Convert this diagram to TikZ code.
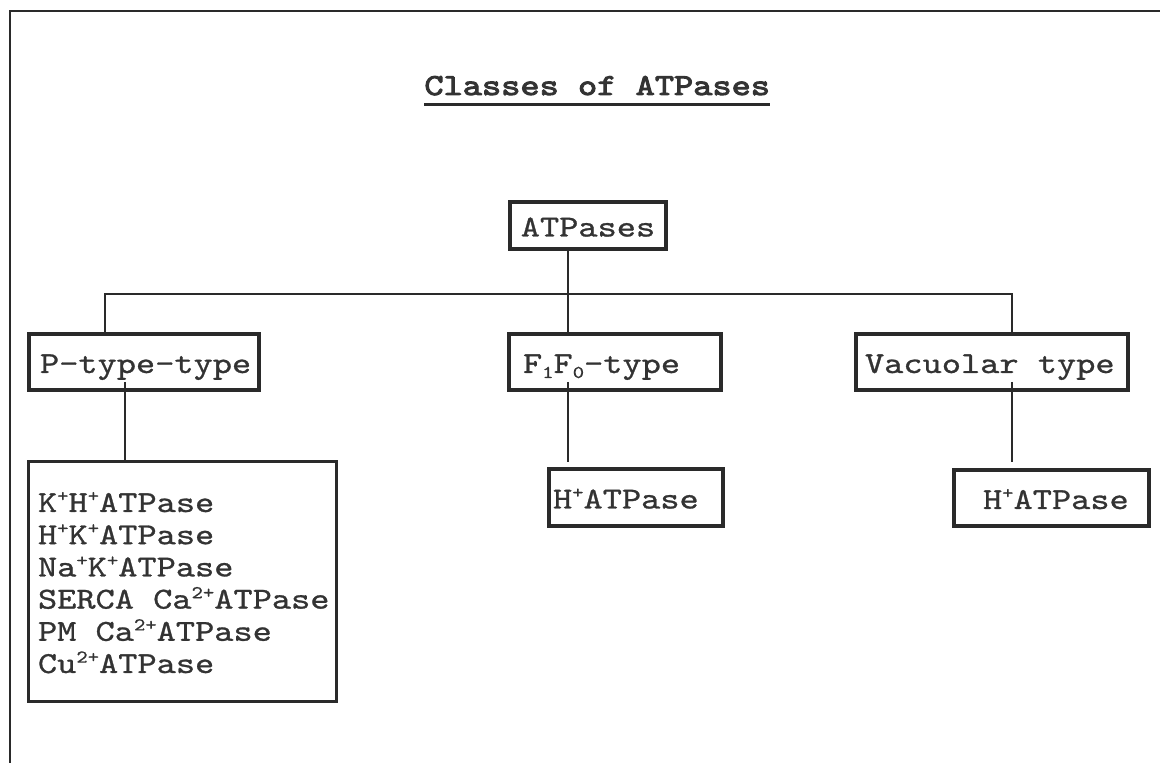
\documentclass[tikz,border=0pt]{standalone}
\usepackage{fontspec}
\newfontfamily\cour[FakeStretch=1.2,FakeBold=0.9]{lmmono10-regular.otf}
\newfontfamily\courb[FakeStretch=1.2,FakeBold=3.2]{lmmono10-regular.otf}
\definecolor{ink}{HTML}{2A2A2A}
\definecolor{txt}{HTML}{333333}
\newcommand\sups[1]{{\fontsize{9}{9}\selectfont\raisebox{5.2pt}{#1}}}
\newcommand\subs[1]{{\fontsize{9}{9}\selectfont\raisebox{-2.5pt}{#1}}}
\tikzset{
  lbl/.style={font=\cour\fontsize{15.24}{16.1}\selectfont, text=txt},
  tbox/.style={draw=ink, line width=2pt, rectangle, lbl, text height=14pt, text depth=3pt, align=left,
    execute at begin node={\spaceskip=0pt\xspaceskip=0pt}},
  conn/.style={draw=ink, line width=1.4pt},
  frame/.style={draw=ink, line width=1.1pt},
}
\begin{document}
\begin{tikzpicture}[x=0.5pt,y=-0.5pt]
\useasboundingbox (0,0) rectangle (1160,763);
% outer frame
\coordinate (fb) at (10,763);
\coordinate (ftl) at (10,11);
\coordinate (ftr) at (1160,11);
\draw[frame] (fb) -- (ftl) -- (ftr);
% title
\node[lbl, font=\courb\fontsize{15.24}{16.1}\selectfont, anchor=base west, inner sep=0pt] (title) at (424,95) {Classes of ATPases};
\draw[ink, line width=1.5pt] ([yshift=-5pt]title.base west) -- ([yshift=-5pt]title.base east);
% boxes
\node[tbox, align=center, inner xsep=0pt, text width=78pt, minimum width=78pt, minimum height=19.5pt] (atp) at (588,225.5) {ATPases};
\node[tbox, inner xsep=5.5pt, text width=104pt, minimum width=115pt, minimum height=28pt] (ptype) at (144,362) {\mbox{P-type-type}};
\node[tbox, inner xsep=7pt, text width=92pt, minimum width=106pt, minimum height=28pt] (f1) at (615,362) {\mbox{F\subs{1}F\subs{0}-type}};
\node[tbox, inner xsep=4.5pt, text width=127pt, minimum width=136pt, minimum height=28pt] (vac) at (992,362) {\mbox{Vacuolar type}};
\node[tbox, line width=1.5pt, inner xsep=4.75pt, text width=144.5pt, minimum width=154pt, minimum height=120pt, text depth=83.5pt] (list) at (182.5,581.5)
  {K\sups{+}H\sups{+}ATPase\\ H\sups{+}K\sups{+}ATPase\\ Na\sups{+}K\sups{+}ATPase\\ \mbox{SERCA Ca\sups{2+}ATPase}\\ \mbox{PM Ca\sups{2+}ATPase}\\ Cu\sups{2+}ATPase};
\node[tbox, inner xsep=2pt, text width=83pt, minimum width=87pt, minimum height=28.5pt] (hm) at (636,497.5) {H\sups{+}ATPase};
\node[tbox, inner xsep=14.5pt, text width=68.5pt, minimum width=97.5pt, minimum height=28pt] (hr) at (1051.5,498) {\mbox{H\sups{+}ATPase}};
% connectors
\coordinate (bl) at (105,294);
\coordinate (br) at (1012,294);
\coordinate (jc) at (568,294);
\draw[conn] (bl |- ptype.north) -- (bl) -- (br) -- (br |- vac.north);
\draw[conn] (jc |- atp.south) -- (jc |- f1.north);
\coordinate (pd) at (125,382);
\draw[conn] (pd) -- (pd |- list.north);
\coordinate (fd) at (568,382);
\draw[conn, shorten >=2.5pt] (fd) -- (fd |- hm.north);
\coordinate (vd) at (1012,382);
\draw[conn, shorten >=3pt] (vd) -- (vd |- hr.north);
\end{tikzpicture}
\end{document}
